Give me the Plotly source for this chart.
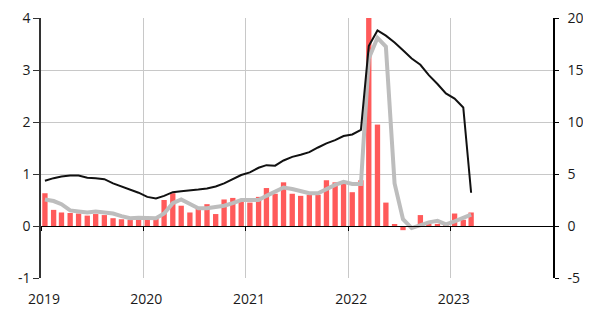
import plotly.graph_objects as go
import pandas as pd

months = pd.date_range("2019-01-01", periods=51, freq="MS") + pd.Timedelta(days=14)
month_labels = [d.strftime("%Y-%m-%d") for d in months]

bars = [0.63, 0.31, 0.26, 0.25, 0.24, 0.20, 0.23, 0.21, 0.15, 0.13, 0.12, 0.12,
        0.14, 0.14, 0.50, 0.63, 0.39, 0.26, 0.35, 0.42, 0.23, 0.51, 0.54, 0.50,
        0.45, 0.56, 0.73, 0.62, 0.84, 0.62, 0.58, 0.60, 0.60, 0.88, 0.84, 0.81,
        0.65, 0.88, 4.10, 1.95, 0.45, 0.03, -0.08, -0.02, 0.21, 0.05, 0.04, 0.02,
        0.24, 0.12, 0.26]

gray = [0.51, 0.48, 0.42, 0.30, 0.28, 0.26, 0.28, 0.26, 0.24, 0.19, 0.15, 0.16,
        0.15, 0.15, 0.24, 0.44, 0.51, 0.42, 0.34, 0.34, 0.36, 0.39, 0.44, 0.50,
        0.50, 0.50, 0.58, 0.66, 0.74, 0.71, 0.68, 0.63, 0.63, 0.71, 0.79, 0.85,
        0.81, 0.81, 3.22, 3.62, 3.45, 0.82, 0.13, -0.04, 0.02, 0.07, 0.10, 0.03,
        0.09, 0.15, 0.22]

black_right = [4.35, 4.6, 4.75, 4.85, 4.85, 4.65, 4.6, 4.5, 4.1, 3.8, 3.55, 3.2,
               2.8, 2.65, 2.9, 3.25, 3.35, 3.4, 3.5, 3.6, 3.8, 4.1, 4.5, 4.9,
               5.15, 5.6, 5.85, 5.8, 6.3, 6.65, 6.85, 7.1, 7.55, 7.95, 8.25, 8.65,
               8.8, 9.25, 17.3, 18.8, 18.3, 17.65, 16.9, 16.1, 15.5, 14.5, 13.65, 12.75,
               12.25, 11.4, 3.2]

left_ticks = [-1, 0, 1, 2, 3, 4]
left_text = ["-1", "0", "1", "2", "3", "4"]
right_ticks = [-5, 0, 5, 10, 15, 20]
right_text = ["-5", "0", "5", "10", "15", "20"]
year_ticks = ["2019-01-01", "2020-01-01", "2021-01-01", "2022-01-01", "2023-01-01"]
year_text = ["2019", "2020", "2021", "2022", "2023"]

FONT = dict(family="Open Sans, Liberation Sans, sans-serif", size=14, color="#1a1a1a")
GRID = "#c8c8c8"

fig = go.Figure()
fig.add_trace(go.Bar(x=month_labels, y=bars, marker=dict(color="#ff5a5a", line=dict(width=0)),
                     width=19 * 86400000, xaxis="x", yaxis="y"))
fig.add_trace(go.Scatter(x=month_labels, y=gray, mode="lines",
                         line=dict(color="#bdbdbd", width=4), xaxis="x", yaxis="y"))
fig.add_trace(go.Scatter(x=month_labels, y=black_right, mode="lines",
                         line=dict(color="#111111", width=2), xaxis="x", yaxis="y2"))
fig.add_trace(go.Scatter(x=[], y=[], xaxis="x2", yaxis="y", showlegend=False))

# page body has an 8px margin, so the figure is sized/margined to land the
# plot area at the reference's page coordinates
fig.update_layout(
    width=583, height=306,
    margin=dict(l=33, r=38, t=10, b=36),
    paper_bgcolor="white", plot_bgcolor="white",
    showlegend=False, font=FONT,
    xaxis=dict(type="date", range=["2019-01-01", "2024-01-01"],
               tickvals=year_ticks, ticktext=year_text,
               showgrid=True, gridcolor=GRID, gridwidth=1,
               ticks="outside", ticklen=8, tickcolor="rgba(0,0,0,0)",
               showline=False, zeroline=False, ticklabelshift=3, automargin=False,
               ticklabeloverflow="allow"),
    xaxis2=dict(type="date", overlaying="x", matches="x", anchor="free", position=0.2,
                tickvals=year_ticks, showticklabels=False, showgrid=False,
                ticks="outside", ticklen=4, tickcolor="black",
                showline=True, linecolor="black", linewidth=1, automargin=False),
    yaxis=dict(range=[-1, 4], tickvals=left_ticks, ticktext=left_text,
               showgrid=True, gridcolor=GRID, gridwidth=1,
               zeroline=True, zerolinecolor="black", zerolinewidth=1,
               showline=True, linecolor="#333", linewidth=1.5,
               ticks="outside", ticklen=6, tickcolor="#333", automargin=False,
               ticklabeloverflow="allow"),
    yaxis2=dict(range=[-5, 20], tickvals=right_ticks, ticktext=right_text,
                overlaying="y", side="right", anchor="x",
                showgrid=False, zeroline=False,
                showline=True, linecolor="black", linewidth=1.5,
                ticks="outside", ticklen=4, tickcolor="black", ticklabelstandoff=6,
                automargin=False, ticklabeloverflow="allow"),
    bargap=0.3,
)

fig.write_html("out.html")
